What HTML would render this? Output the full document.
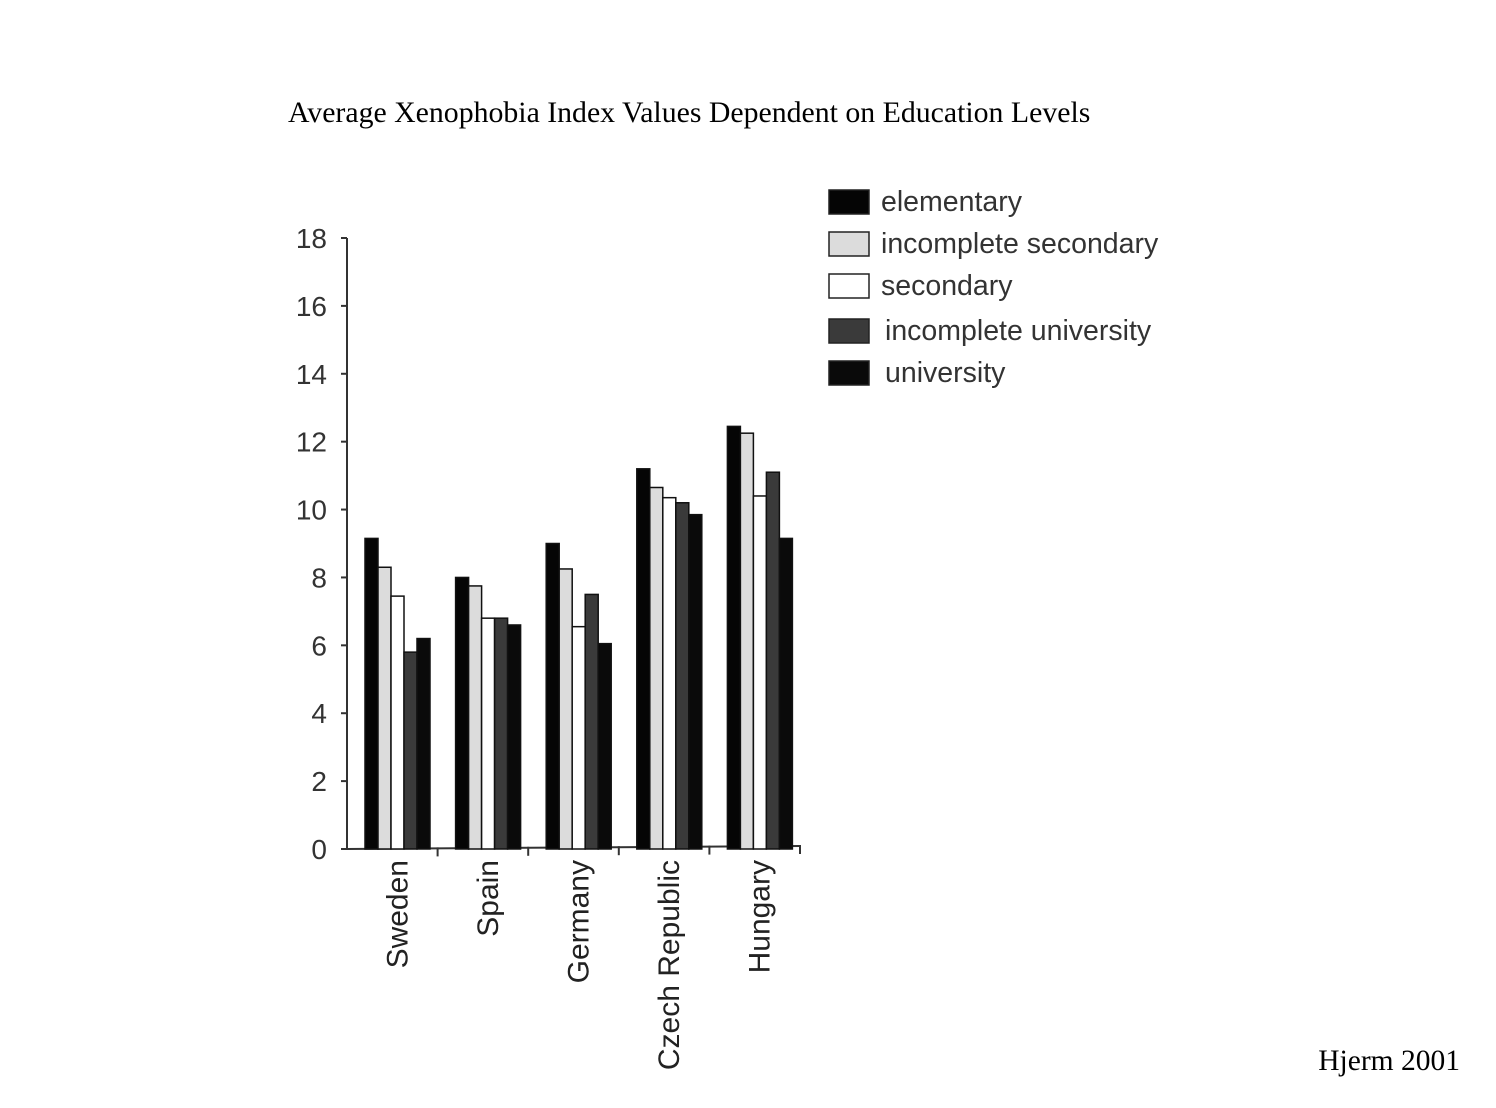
<!DOCTYPE html>
<html><head><meta charset="utf-8"><style>
body{margin:0;background:#fff;}
svg{display:block;}
</style></head><body>
<svg id="chart" width="1496" height="1108" xmlns="http://www.w3.org/2000/svg">
<text x="288" y="122" font-family="Liberation Serif, serif" font-size="29.8" fill="#000">Average Xenophobia Index Values Dependent on Education Levels</text>
<text x="1460" y="1070" text-anchor="end" font-family="Liberation Serif, serif" font-size="29.5" fill="#000">Hjerm 2001</text>
<g id="axes"></g><g id="bars"></g><g id="legend"></g>
</svg>
<script>
const categories = ["Sweden","Spain","Germany","Czech Republic","Hungary"];
const seriesNames = ["elementary","incomplete secondary","secondary","incomplete university","university"];
const elementary = [9.15, 8.0, 9.0, 11.2, 12.45];
const incompleteSecondary = [8.3, 7.75, 8.25, 10.65, 12.25];
const secondary = [7.45, 6.8, 6.55, 10.35, 10.4];
const incompleteUniversity = [5.8, 6.8, 7.5, 10.2, 11.1];
const university = [6.2, 6.6, 6.05, 9.85, 9.15];
const yTicks = [0,2,4,6,8,10,12,14,16,18];

const NS="http://www.w3.org/2000/svg";
const series=[elementary,incompleteSecondary,secondary,incompleteUniversity,university];
const fills=["#050505","#dcdcdc","#ffffff","#3a3a3a","#0a0a0a"];
const x0=347,x1=800,y0=849,yTop=238;
const y=v=>y0-(v/18)*(y0-yTop);
const groupW=(x1-x0)/categories.length;
const barW=13;
function mk(tag,attrs,parent){const e=document.createElementNS(NS,tag);for(const k in attrs)e.setAttribute(k,attrs[k]);document.getElementById(parent).appendChild(e);return e;}
const ax=mk("line",{x1:x0,y1:y0,x2:x0,y2:yTop,stroke:"#333","stroke-width":2},"axes");


const bx=mk("line",{x1:x0,y1:y0,x2:x1,y2:y0-3,stroke:"#333","stroke-width":2},"axes");


yTicks.forEach(t=>{
  mk("line",{x1:x0-6,y1:y(t),x2:x0,y2:y(t),stroke:"#333","stroke-width":2},"axes");
  const tx=mk("text",{x:327,y:y(t)+10,"text-anchor":"end","font-family":"Liberation Sans, sans-serif","font-size":28,fill:"#333"},"axes");
  tx.textContent=t;
  
  
});
categories.forEach((c,i)=>{
  const gx=x0+groupW*(i+1);
  mk("line",{x1:gx,y1:y0-1-(i+1)*0.6,x2:gx,y2:y0+8-(i+1)*0.6,stroke:"#333","stroke-width":2},"axes");
  const cx=x0+groupW*(i+0.5)+4;
  const tx=mk("text",{x:0,y:0,transform:`translate(${cx+11},${860}) rotate(-90)`,"text-anchor":"end","font-family":"Liberation Sans, sans-serif","font-size":30,fill:"#222"},"axes");
  tx.textContent=c;
  
  
  series.forEach((s,j)=>{
    const bxp=x0+groupW*i+18+j*barW;
    const r=mk("rect",{x:bxp,y:y(s[i]),width:barW,height:y0-y(s[i]),fill:fills[j],stroke:"#111","stroke-width":1.5},"bars");
    
    
  });
});
seriesNames.forEach((n,j)=>{
  const ly=190+j*42;
  const sw=mk("rect",{x:829,y:ly+(j>2?3:0),width:40,height:24,fill:fills[j],stroke:"#222","stroke-width":1.5},"legend");
  
  
  const t=mk("text",{x:j>2?885:881,y:ly+21+(j>2?3:0),"font-family":"Liberation Sans, sans-serif","font-size":28.5,fill:"#333"},"legend");
  t.textContent=n;
  
  
});
</script>
</body></html>
